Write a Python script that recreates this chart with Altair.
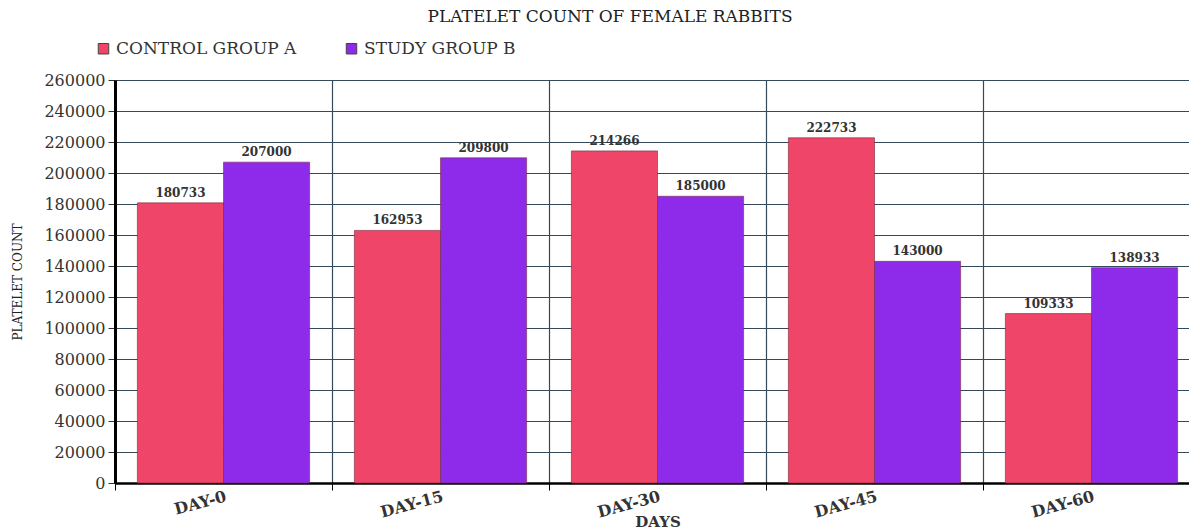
import altair as alt
import pandas as pd

days = ["DAY-0", "DAY-15", "DAY-30", "DAY-45", "DAY-60"]
groups = ["CONTROL GROUP A", "STUDY GROUP B"]
control = [180733, 162953, 214266, 222733, 109333]
study = [207000, 209800, 185000, 143000, 138933]
y_ticks = list(range(0, 260001, 20000))

rows = []
for d, a, b in zip(days, control, study):
    rows.append({"day": d, "group": groups[0], "count": a})
    rows.append({"day": d, "group": groups[1], "count": b})
df = pd.DataFrame(rows)

FONT = "DejaVu Serif"
GRID = "#34495a"

x_enc = alt.X(
    "day:N",
    sort=days,
    scale=alt.Scale(paddingInner=0, paddingOuter=0, range=[0, 1085]),
    axis=alt.Axis(
        title="DAYS",
        tickBand="extent",
        grid=True,
        gridColor=GRID,
        gridOpacity=1,
        gridWidth=1.2,
        domainColor="#000",
        domainWidth=2.5,
        tickColor="#000",
        tickSize=7,
        labelAngle=-15,
        labelFont=FONT,
        labelFontSize=16,
        labelFontWeight="bold",
        labelColor="#333",
        labelPadding=-2,
        titleFont=FONT,
        titleFontSize=15,
        titleFontWeight="bold",
        titleColor="#333",
        titleY=31,
    ),
)
xoff = alt.XOffset(
    "group:N", sort=groups, scale=alt.Scale(paddingOuter=0.26, paddingInner=0)
)
y_enc = alt.Y(
    "count:Q",
    scale=alt.Scale(domain=[0, 260000], nice=False),
    axis=alt.Axis(
        title="PLATELET COUNT",
        values=y_ticks,
        format="d",
        labelOverlap=False,
        grid=True,
        gridColor=GRID,
        gridOpacity=1,
        gridWidth=1.2,
        domainColor="#000",
        domainWidth=3,
        tickColor="#333",
        tickSize=7,
        labelFont=FONT,
        labelFontSize=16,
        labelColor="#333",
        labelPadding=3,
        titleFont=FONT,
        titleFontSize=12,
        titleFontWeight="normal",
        titleColor="#222",
        titlePadding=19,
    ),
)
color = alt.Color(
    "group:N",
    sort=groups,
    scale=alt.Scale(domain=groups, range=["#EE4568", "#8E2BEA"]),
    legend=alt.Legend(
        title=None,
        orient="none",
        legendX=-20,
        legendY=-40,
        direction="horizontal",
        symbolType="square",
        symbolSize=110,
        symbolStrokeColor="#444",
        symbolStrokeWidth=1,
        labelFont=FONT,
        labelFontSize=17,
        labelColor="#333",
        columnPadding=46,
        labelLimit=400,
    ),
)

bars = alt.Chart(df).mark_bar(stroke="#7a2a40", strokeWidth=0.6).encode(
    x=x_enc, xOffset=xoff, y=y_enc, color=color
)
labels = alt.Chart(df).mark_text(
    baseline="bottom", dy=-3, font=FONT, fontSize=12, fontWeight="bold", color="#333"
).encode(x=x_enc, xOffset=xoff, y=y_enc, text="count:Q")

chart = (
    alt.layer(bars, labels)
    .properties(
        width=1074,
        height=403,
        autosize=alt.AutoSizeParams(type="none"),
        padding={"left": 115, "top": 80, "right": 0, "bottom": 49},
        title=alt.TitleParams(
            "PLATELET  COUNT OF FEMALE RABBITS",
            font=FONT,
            fontSize=17,
            fontWeight="normal",
            color="#222",
            anchor="middle",
            dx=-42,
            offset=14,
        ),
    )
    .configure_view(stroke=None)
)

chart.save("out.html", embed_options={"renderer": "svg", "actions": False})
